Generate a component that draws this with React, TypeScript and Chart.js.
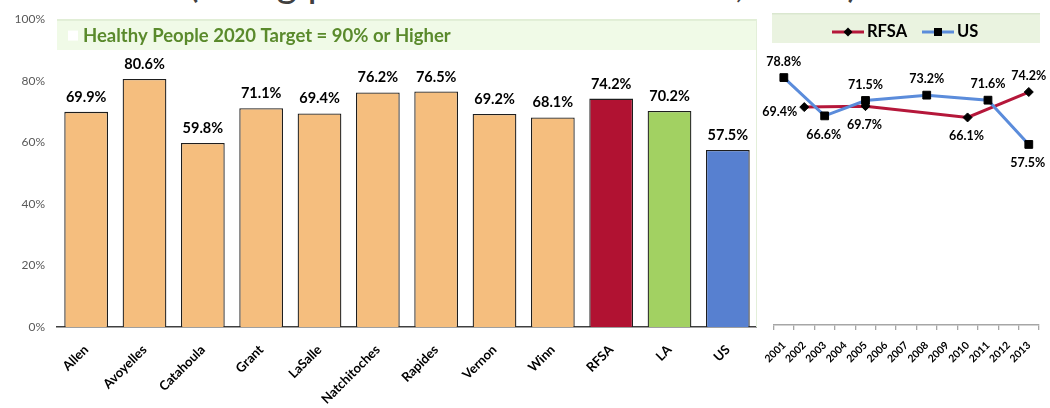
import React, { useEffect, useRef } from 'react';
import { Chart, registerables } from 'chart.js';

Chart.register(...registerables);

// ---------- data ----------
const COUNTIES = ['Allen', 'Avoyelles', 'Catahoula', 'Grant', 'LaSalle', 'Natchitoches', 'Rapides', 'Vernon', 'Winn', 'RFSA', 'LA', 'US'];
const RATES = [69.9, 80.6, 59.8, 71.1, 69.4, 76.2, 76.5, 69.2, 68.1, 74.2, 70.2, 57.5];
const BAR_COLORS = ['#F5BE7E', '#F5BE7E', '#F5BE7E', '#F5BE7E', '#F5BE7E', '#F5BE7E', '#F5BE7E', '#F5BE7E', '#F5BE7E', '#B11232', '#A2D162', '#5780D0'];
const Y_TICKS = [0, 20, 40, 60, 80, 100];
const TARGET = 90;
const TARGET_LABEL = 'Healthy People 2020 Target = 90% or Higher';
const TITLE_LINE = '(Using percent of enrollees 65+, 2013)';

const YEARS = ['2001', '2002', '2003', '2004', '2005', '2006', '2007', '2008', '2009', '2010', '2011', '2012', '2013'];
const RFSA_TREND = [null, 69.4, null, null, 69.7, null, null, null, null, 66.1, null, null, 74.2];
const US_TREND = [78.8, null, 66.6, null, 71.5, null, null, 73.2, null, null, 71.6, null, 57.5];
const RFSA_LABEL_POS = ['', 'left', '', '', 'below', '', '', '', '', 'below', '', '', 'above'];
const US_LABEL_POS = ['above', '', 'below', '', 'above', '', '', 'above', '', '', 'above', '', 'below'];

const FONT = 'Lato, "Open Sans", sans-serif';
const RFSA_LINE = '#B5173A';
const US_LINE = '#5B8CDB';

const barPlugin = {
  id: 'barExtras',
  beforeDatasetsDraw(chart: any) {
    const { ctx, chartArea, scales } = chart;
    const y = scales.y;
    const top = y.getPixelForValue(100);
    const bottom = y.getPixelForValue(TARGET);
    ctx.save();
    ctx.fillStyle = '#F0FAE7';
    ctx.fillRect(chartArea.left, top, chartArea.right - chartArea.left, bottom - top);
    ctx.fillStyle = '#DCEAD1';
    ctx.fillRect(chartArea.left, top, chartArea.right - chartArea.left, 1.5);
    ctx.fillStyle = '#E3EFD9';
    ctx.fillRect(chartArea.right - 1, top, 1, chartArea.bottom - top);
    const cy = (top + bottom) / 2 + 1;
    ctx.fillStyle = '#FFFFFF';
    ctx.fillRect(chartArea.left + 11, cy - 5, 10, 10);
    ctx.fillStyle = '#5A8A2C';
    ctx.font = `bold 18.5px ${FONT}`;
    ctx.textBaseline = 'middle';
    ctx.textAlign = 'left';
    ctx.fillText(TARGET_LABEL, chartArea.left + 26, cy);
    ctx.restore();
  },
  afterDatasetsDraw(chart: any) {
    const { ctx } = chart;
    const meta = chart.getDatasetMeta(0);
    const data = chart.data.datasets[0].data;
    ctx.save();
    ctx.fillStyle = '#000';
    ctx.font = `bold 14.5px ${FONT}`;
    ctx.textAlign = 'center';
    ctx.textBaseline = 'alphabetic';
    meta.data.forEach((el: any, i: number) => {
      ctx.fillText(`${Number(data[i]).toFixed(1)}%`, el.x, el.y - 10);
    });
    ctx.restore();
  },
};

// legend box position within the line canvas (canvas starts at x=757)
const LEG_X = 15;

const linePlugin = {
  id: 'lineExtras',
  afterDatasetsDraw(chart: any) {
    const { ctx } = chart;
    ctx.save();
    ctx.fillStyle = '#000';
    ctx.font = `bold 12.5px ${FONT}`;
    ctx.textBaseline = 'middle';
    chart.data.datasets.forEach((ds: any, di: number) => {
      const meta = chart.getDatasetMeta(di);
      const pos = ds.labelPos as string[];
      meta.data.forEach((el: any, i: number) => {
        const v = ds.data[i];
        if (v === null || v === undefined) return;
        const text = `${Number(v).toFixed(1)}%`;
        if (pos[i] === 'left') {
          ctx.textAlign = 'right';
          ctx.fillText(text, el.x - 7, el.y + 5);
        } else if (pos[i] === 'below') {
          ctx.textAlign = 'center';
          ctx.fillText(text, el.x - 1, el.y + 19);
        } else {
          ctx.textAlign = 'center';
          ctx.fillText(text, el.x, el.y - 16);
        }
      });
    });
    ctx.restore();
  },
  afterDraw(chart: any) {
    const { ctx } = chart;
    ctx.save();
    ctx.fillStyle = '#EAF3E0';
    ctx.fillRect(LEG_X, 13, 268, 30);
    ctx.fillStyle = '#DAE7CF';
    ctx.fillRect(LEG_X, 13, 268, 1.5);
    const ly = 32;
    const items = [
      { label: chart.data.datasets[0].label, color: RFSA_LINE, style: 'diamond', x0: LEG_X + 60 },
      { label: chart.data.datasets[1].label, color: US_LINE, style: 'square', x0: LEG_X + 150 },
    ];
    items.forEach((it) => {
      ctx.strokeStyle = it.color;
      ctx.lineWidth = 3;
      ctx.beginPath();
      ctx.moveTo(it.x0, ly);
      ctx.lineTo(it.x0 + 32, ly);
      ctx.stroke();
      ctx.fillStyle = '#000';
      const cx = it.x0 + 16;
      if (it.style === 'diamond') {
        ctx.beginPath();
        ctx.moveTo(cx, ly - 4.5);
        ctx.lineTo(cx + 4.5, ly);
        ctx.lineTo(cx, ly + 4.5);
        ctx.lineTo(cx - 4.5, ly);
        ctx.closePath();
        ctx.fill();
      } else {
        ctx.fillRect(cx - 4, ly - 4, 8, 8);
      }
      ctx.font = `bold 16.5px ${FONT}`;
      ctx.textAlign = 'left';
      ctx.textBaseline = 'middle';
      ctx.fillText(it.label, it.x0 + 35, ly);
    });
    ctx.restore();
  },
};

export default function App() {
  const barRef = useRef<HTMLCanvasElement>(null);
  const lineRef = useRef<HTMLCanvasElement>(null);

  useEffect(() => {
    const bar = new Chart(barRef.current as HTMLCanvasElement, {
      type: 'bar',
      data: {
        labels: COUNTIES,
        datasets: [
          {
            data: RATES,
            backgroundColor: BAR_COLORS,
            borderColor: '#1E1E1E',
            borderWidth: 1.3,
            categoryPercentage: 1,
            barPercentage: 0.75,
          },
        ],
      },
      options: {
        animation: false,
        responsive: false,
        devicePixelRatio: 1,
        layout: { padding: { top: 12, right: 0, left: 0, bottom: 0 } },
        plugins: { legend: { display: false }, tooltip: { enabled: false }, title: { display: false } },
        scales: {
          x: {
            grid: { display: false, drawTicks: false },
            border: { display: true, color: '#404040', width: 1.5 },
            ticks: {
              color: '#000',
              font: { family: FONT, size: 13, weight: 'bold' },
              minRotation: 45,
              maxRotation: 45,
              autoSkip: false,
              padding: 15,
            },
            afterFit: (s: any) => {
              s.height = 81;
            },
          },
          y: {
            min: 0,
            max: 100,
            grid: { display: false, drawTicks: false },
            border: { display: false },
            afterBuildTicks: (s: any) => {
              s.ticks = Y_TICKS.map((v) => ({ value: v }));
            },
            ticks: {
              padding: 12,
              color: '#595959',
              font: { family: FONT, size: 12 },
              callback: (v: any) => `${v}%`,
            },
            afterFit: (s: any) => {
              s.width = 57;
            },
          },
        },
      } as any,
      plugins: [barPlugin],
    });

    const line = new Chart(lineRef.current as HTMLCanvasElement, {
      type: 'line',
      data: {
        labels: YEARS,
        datasets: [
          {
            label: 'RFSA',
            data: RFSA_TREND,
            labelPos: RFSA_LABEL_POS,
            borderColor: RFSA_LINE,
            borderWidth: 3,
            pointStyle: 'rectRot',
            pointRadius: 4.5,
            pointBackgroundColor: '#000',
            pointBorderColor: '#000',
            pointBorderWidth: 1,
            spanGaps: true,
            tension: 0,
            order: 1,
          } as any,
          {
            label: 'US',
            data: US_TREND,
            labelPos: US_LABEL_POS,
            borderColor: US_LINE,
            borderWidth: 3,
            pointStyle: 'rect',
            pointRadius: 5.5,
            pointBackgroundColor: '#000',
            pointBorderColor: '#000',
            pointBorderWidth: 1,
            spanGaps: true,
            tension: 0,
            order: 0,
          } as any,
        ],
      },
      options: {
        animation: false,
        responsive: false,
        devicePixelRatio: 1,
        layout: { padding: { top: 11, right: 11, left: 16, bottom: 0 } },
        plugins: { legend: { display: false }, tooltip: { enabled: false }, title: { display: false } },
        scales: {
          x: {
            offset: true,
            grid: {
              display: true,
              offset: true,
              drawOnChartArea: false,
              drawTicks: true,
              tickLength: 5,
              color: '#A6A6A6',
              lineWidth: 1.3,
            },
            border: { display: true, color: '#A6A6A6', width: 1.5 },
            ticks: {
              color: '#000',
              font: { family: FONT, size: 10.5, weight: 'bold' },
              minRotation: 45,
              maxRotation: 45,
              autoSkip: false,
              padding: 9,
            },
            afterFit: (s: any) => {
              s.height = 83;
            },
          },
          y: { display: false, min: 0, max: 100 },
        },
      } as any,
      plugins: [linePlugin],
    });

    return () => {
      bar.destroy();
      line.destroy();
    };
  }, []);

  return (
    <div
      style={{
        position: 'absolute',
        left: 0,
        top: 0,
        width: 1050,
        height: 408,
        overflow: 'hidden',
        background: '#fff',
      }}
    >
      <div
        style={{
          position: 'absolute',
          left: 188,
          top: -38,
          fontFamily: FONT,
          fontSize: 40,
          lineHeight: '40px',
          color: '#404040',
          whiteSpace: 'nowrap',
        }}
      >
        {TITLE_LINE}
      </div>
      <canvas ref={barRef} width={757} height={408} style={{ position: 'absolute', left: 0, top: 0 }} />
      <canvas ref={lineRef} width={293} height={408} style={{ position: 'absolute', left: 757, top: 0 }} />
    </div>
  );
}
